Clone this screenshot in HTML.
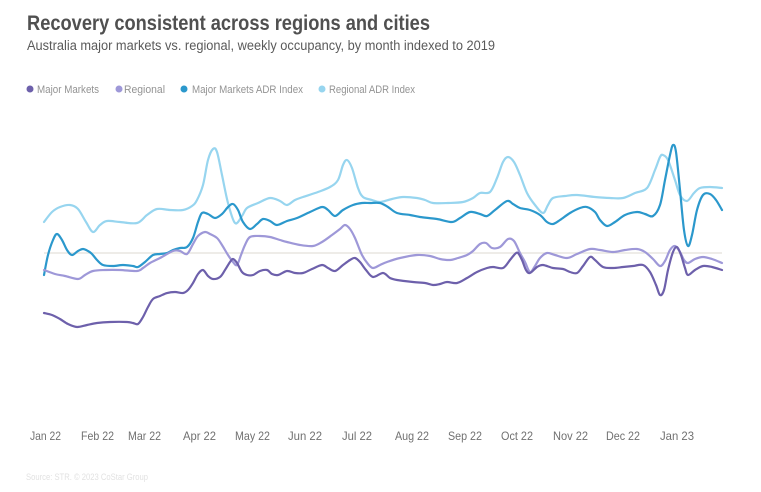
<!DOCTYPE html>
<html><head><meta charset="utf-8">
<style>
html,body{margin:0;padding:0;background:#fff;}
svg{display:block;}
text{font-family:"Liberation Sans",sans-serif;}
</style></head>
<body>
<svg id="c" width="761" height="492" viewBox="0 0 761 492" xmlns="http://www.w3.org/2000/svg">
<rect width="761" height="492" fill="#fff"/>
<text x="27" y="30" font-size="21" font-weight="bold" fill="#505050" textLength="403" lengthAdjust="spacingAndGlyphs">Recovery consistent across regions and cities</text>
<text x="27" y="50" font-size="13.5" fill="#5a5a5a" textLength="468" lengthAdjust="spacingAndGlyphs">Australia major markets vs. regional, weekly occupancy, by month indexed to 2019</text>

<g font-size="11" fill="#939393">
<circle cx="30" cy="89" r="3.5" fill="#6d60ab"/>
<text x="37" y="93" textLength="62" lengthAdjust="spacingAndGlyphs">Major Markets</text>
<circle cx="119" cy="89" r="3.5" fill="#9e98d8"/>
<text x="124" y="93" textLength="41" lengthAdjust="spacingAndGlyphs">Regional</text>
<circle cx="184" cy="89" r="3.5" fill="#2b98cc"/>
<text x="192" y="93" textLength="111" lengthAdjust="spacingAndGlyphs">Major Markets ADR Index</text>
<circle cx="322" cy="89" r="3.5" fill="#97d5ef"/>
<text x="329" y="93" textLength="86" lengthAdjust="spacingAndGlyphs">Regional ADR Index</text>
</g>

<line x1="44" y1="253" x2="722" y2="253" stroke="#e8e6e0" stroke-width="1.5"/>

<g fill="none" stroke-width="2.2" stroke-linejoin="round" stroke-linecap="round">
<polyline class="s" stroke="#97d5ef" points="44,222 52,212 60,207 70,205 78,209 86,222 93,232 100,225 107,221 120,222 137,223 147,215 157,209 170,210 183,210 192,206 197,200 203,185 208,160 213,149 217,152 222,175 228,203 235,223 242,216 247,208 258,203 270,198 280,201 287,205 295,200 303,197 318,192 330,187 338,180 343,165 347,160 352,168 358,188 363,197 372,200 380,202 392,199 403,197 417,198 425,200 433,203 448,203 463,202 473,198 480,193 490,192 497,178 503,162 508,157 514,162 520,175 527,193 535,205 543,213 548,205 553,198 565,196 577,195 595,197 610,198 623,198 635,193 647,188 655,170 660,157 663,155 668,160 675,180 680,195 687,201 694,193 700,188 710,187 722,188"/>
<polyline class="s" stroke="#2b98cc" points="44,275 48,255 53,240 57,234 62,240 67,250 72,255 78,251 83,249 88,251 92,254 97,260 103,265 113,266 123,265 133,266 138,267 145,262 153,255 160,254 167,253 173,250 180,248 187,247 193,238 198,222 202,213 208,214 215,218 222,214 228,207 233,204 238,210 243,222 250,229 257,224 263,219 270,221 277,225 287,221 297,218 310,212 322,207 328,210 335,216 343,210 353,205 362,203 370,203 380,203 388,207 397,213 410,215 420,217 437,219 452,222 460,218 470,212 480,214 487,216 495,210 507,201 513,204 520,208 530,210 540,215 547,222 553,224 560,220 570,213 580,208 587,207 595,212 600,220 607,226 615,222 625,215 637,212 645,214 653,216 660,205 665,180 670,155 673,145 676,152 680,190 684,230 688,246 692,235 697,210 703,195 710,194 716,200 722,210"/>
<polyline class="s" stroke="#9e98d8" points="44,270 55,274 65,276 78,279 85,275 93,271 105,270 120,270 137,271 143,268 150,263 160,258 173,251 180,251 187,254 193,244 198,236 205,232 210,234 217,238 222,245 228,255 233,262 237,265 241,255 245,245 250,237 260,236 270,237 280,240 287,242 300,245 313,246 322,242 332,235 340,229 345,225 350,229 355,238 362,255 368,264 373,268 380,265 387,262 400,258 417,255 430,256 440,259 450,260 458,258 467,255 473,251 480,244 486,243 492,248 500,247 508,239 514,241 520,253 525,262 530,272 535,266 540,258 547,253 555,255 567,258 577,254 590,249 600,250 613,252 625,250 637,249 645,252 653,259 660,266 665,261 670,250 675,246 680,252 684,260 688,263 695,259 703,257 712,259 722,263"/>
<polyline class="s" stroke="#6d60ab" points="44,313 52,315 60,319 68,324 77,327 87,325 97,323 110,322 127,322 133,323 138,324 143,317 148,307 153,299 160,296 167,293 175,292 183,293 188,290 193,283 198,274 203,270 208,276 213,279 220,277 225,270 230,262 233,259 237,263 242,272 247,275 253,275 260,271 267,270 272,274 278,275 287,271 295,273 303,273 312,269 322,265 328,268 335,271 343,265 350,260 355,258 360,262 366,270 373,277 383,273 390,278 397,280 413,282 425,283 433,285 440,284 447,282 457,283 467,278 477,272 487,268 493,267 503,268 510,260 515,254 518,253 522,260 526,270 530,273 537,267 543,265 553,268 563,269 570,272 577,273 583,266 590,257 595,260 603,267 613,268 623,267 633,266 643,265 650,272 656,285 660,295 664,290 668,270 673,252 677,247 681,255 685,268 688,275 695,270 703,266 712,267 722,270"/>
</g>

<g font-size="12" fill="#707070">
<text x="30" y="440" textLength="31" lengthAdjust="spacingAndGlyphs">Jan 22</text>
<text x="81" y="440" textLength="33" lengthAdjust="spacingAndGlyphs">Feb 22</text>
<text x="128" y="440" textLength="33" lengthAdjust="spacingAndGlyphs">Mar 22</text>
<text x="183" y="440" textLength="33" lengthAdjust="spacingAndGlyphs">Apr 22</text>
<text x="235" y="440" textLength="35" lengthAdjust="spacingAndGlyphs">May 22</text>
<text x="288" y="440" textLength="34" lengthAdjust="spacingAndGlyphs">Jun 22</text>
<text x="342" y="440" textLength="30" lengthAdjust="spacingAndGlyphs">Jul 22</text>
<text x="395" y="440" textLength="34" lengthAdjust="spacingAndGlyphs">Aug 22</text>
<text x="448" y="440" textLength="34" lengthAdjust="spacingAndGlyphs">Sep 22</text>
<text x="501" y="440" textLength="32" lengthAdjust="spacingAndGlyphs">Oct 22</text>
<text x="553" y="440" textLength="35" lengthAdjust="spacingAndGlyphs">Nov 22</text>
<text x="606" y="440" textLength="34" lengthAdjust="spacingAndGlyphs">Dec 22</text>
<text x="660" y="440" textLength="34" lengthAdjust="spacingAndGlyphs">Jan 23</text>
</g>

<text x="26" y="480" font-size="9" fill="#e2e2e2" textLength="122" lengthAdjust="spacingAndGlyphs">Source: STR. © 2023 CoStar Group</text>
</svg>
<script>
(function(){
  var ns="http://www.w3.org/2000/svg";
  var pls=document.querySelectorAll("polyline.s");
  for(var k=0;k<pls.length;k++){
    var pl=pls[k];
    var raw=pl.getAttribute("points").trim().split(/\s+/).map(function(s){var a=s.split(",");return [parseFloat(a[0]),parseFloat(a[1])];});
    var d="M"+raw[0][0]+","+raw[0][1];
    for(var i=0;i<raw.length-1;i++){
      var p0=raw[i>0?i-1:i],p1=raw[i],p2=raw[i+1],p3=raw[i+2<raw.length?i+2:i+1];
      var t=1/6;
      var c1x=p1[0]+(p2[0]-p0[0])*t,c1y=p1[1]+(p2[1]-p0[1])*t;
      var c2x=p2[0]-(p3[0]-p1[0])*t,c2y=p2[1]-(p3[1]-p1[1])*t;
      d+=" C"+c1x.toFixed(2)+","+c1y.toFixed(2)+" "+c2x.toFixed(2)+","+c2y.toFixed(2)+" "+p2[0]+","+p2[1];
    }
    var path=document.createElementNS(ns,"path");
    path.setAttribute("d",d);
    path.setAttribute("stroke",pl.getAttribute("stroke"));
    pl.parentNode.replaceChild(path,pl);
  }
})();
</script>
</body></html>
